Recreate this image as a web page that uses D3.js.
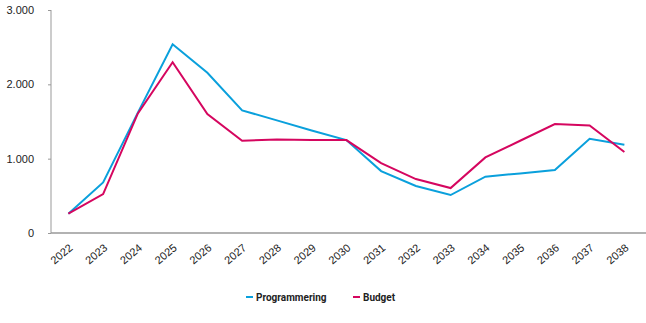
<!DOCTYPE html>
<html>
<head>
<meta charset="utf-8">
<script src="https://cdn.jsdelivr.net/npm/d3@7"></script>
<style>
  body { margin: 0; background: #fff; }
  #chart { width: 646px; height: 323px; }
  text { font-family: "Liberation Sans", Arial, sans-serif; fill: #222; }
  .legend text { font-family: "Liberation Sans Narrow", "Roboto", sans-serif; font-weight: bold; font-size: 10px; }
</style>
</head>
<body>
<div id="chart"></div>
<script>
var years = ["2022","2023","2024","2025","2026","2027","2028","2029","2030","2031","2032","2033","2034","2035","2036","2037","2038"];
var programmering = [260, 680, 1620, 2540, 2155, 1650, 1515, 1380, 1250, 833, 632, 511, 757, 802, 847, 1268, 1187];
var budget = [260, 524, 1609, 2298, 1600, 1241, 1259, 1250, 1250, 941, 726, 605, 1017, 1241, 1465, 1447, 1089];
var yTicks = [0, 1000, 2000, 3000];

var svgWidth = 646, svgHeight = 323;
var margin = { top: 10, right: 5, bottom: 90, left: 51 };
var width = 641.75 - margin.left;
var height = 233 - margin.top;

var svg = d3.select("#chart")
  .append("svg")
  .attr("width", svgWidth)
  .attr("height", svgHeight);

var chartGroup = svg.append("g")
  .attr("transform", `translate(${margin.left}, ${margin.top})`);

var x = d3.scaleBand().domain(years).range([0, width]);
var y = d3.scaleLinear().domain([0, 3000]).range([height, 0]);

var fmt = function(d) { return d3.format(",")(d).replace(/,/g, "."); };

// y axis
var yAxis = chartGroup.append("g")
  .call(d3.axisLeft(y).tickValues(yTicks).tickSize(3).tickFormat(fmt).tickPadding(14));
yAxis.select(".domain").attr("stroke", "#999").attr("d", `M0,0V${height}`);
yAxis.selectAll("line").attr("stroke", "#999");
yAxis.selectAll("text").style("font-size", "11px").attr("fill", "#222");

// x axis
var xAxis = chartGroup.append("g")
  .attr("transform", `translate(0, ${height})`)
  .call(d3.axisBottom(x).tickSize(0));
xAxis.select(".domain").attr("stroke", "#999").attr("stroke-width", 1.5).attr("d", `M0,0H${svgWidth - margin.left}`);
xAxis.selectAll("text")
  .style("font-size", "11px")
  .attr("fill", "#222")
  .attr("text-anchor", "end")
  .attr("x", 0)
  .attr("y", 0)
  .attr("dy", 0)
  .attr("transform", "translate(5,16) rotate(-40)");

var line = d3.line()
  .x(function(d, i) { return x(years[i]) + x.bandwidth() / 2; })
  .y(function(d) { return y(d); });

chartGroup.append("path")
  .datum(programmering)
  .attr("fill", "none")
  .attr("stroke", "#0aa0dc")
  .attr("stroke-width", 2)
  .attr("d", line);

chartGroup.append("path")
  .datum(budget)
  .attr("fill", "none")
  .attr("stroke", "#d5065f")
  .attr("stroke-width", 2)
  .attr("d", line);

// legend
var legend = svg.append("g").attr("class", "legend");
var items = [
  { name: "Programmering", color: "#0aa0dc", x: 246 },
  { name: "Budget", color: "#d5065f", x: 353 }
];
items.forEach(function(it) {
  legend.append("line")
    .attr("x1", it.x).attr("x2", it.x + 7)
    .attr("y1", 297).attr("y2", 297)
    .attr("stroke", it.color).attr("stroke-width", 2);
  legend.append("text")
    .attr("x", it.x + 10).attr("y", 300.5)
    .text(it.name);
});
</script>
</body>
</html>
